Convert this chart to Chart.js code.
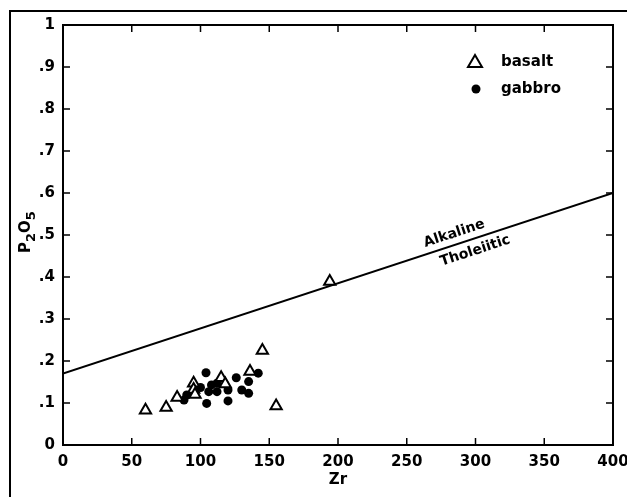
<!DOCTYPE html>
<html lang="en">
<head>
    <meta charset="UTF-8">
    <title>P2O5 vs Zr</title>
    <script src="https://cdn.jsdelivr.net/npm/chart.js"></script>
    <style>
        html, body { margin: 0; padding: 0; background: #fff; }
        #wrap { width: 627px; height: 497px; position: relative; }
    </style>
</head>
<body>
<div id="wrap"><canvas id="zrChart" width="627" height="497"></canvas></div>
<script>
    // values
    const basaltZr  = [60, 75, 83, 95, 95, 96, 115, 118, 136, 145, 155, 194];
    const basaltP   = [0.083, 0.089, 0.113, 0.147, 0.132, 0.12, 0.16, 0.145, 0.175, 0.225, 0.093, 0.389];
    const gabbroZr  = [88, 90, 104, 104.5, 106, 108, 112, 112, 120, 120, 126, 130, 135, 135, 142, 100];
    const gabbroP   = [0.107, 0.119, 0.172, 0.099, 0.127, 0.143, 0.147, 0.127, 0.105, 0.131, 0.16, 0.131, 0.123, 0.151, 0.171, 0.137];
    const dividerZr = [0, 400];
    const dividerP  = [0.17, 0.6];
    const xTicks = [0, 50, 100, 150, 200, 250, 300, 350, 400];
    const yTicks = [0, 0.1, 0.2, 0.3, 0.4, 0.5, 0.6, 0.7, 0.8, 0.9, 1];

    const FONT = 'DejaVu Sans';

    function pts(xs, ys) { return xs.map((x, i) => ({x: x, y: ys[i]})); }

    function yLabel(v) {
        const r = Math.round(v * 10) / 10;
        if (r === 0) return '0';
        if (r === 1) return '1';
        return '.' + Math.round(r * 10);
    }

    // frame, inward ticks, legend, line labels, y title with subscripts
    const decor = {
        id: 'decor',
        afterDraw(chart) {
            const ctx = chart.ctx;
            const a = chart.chartArea;
            const xs = chart.scales.x, ys = chart.scales.y;
            ctx.save();
            ctx.strokeStyle = '#000';
            ctx.lineWidth = 2;
            // outer frame
            ctx.beginPath();
            ctx.moveTo(10, 497); ctx.lineTo(10, 11); ctx.lineTo(627, 11);
            ctx.stroke();
            // plot box
            ctx.strokeRect(a.left, a.top, a.right - a.left, a.bottom - a.top);
            // ticks pointing in
            ctx.lineWidth = 1.5;
            ctx.beginPath();
            xTicks.forEach(v => {
                const px = xs.getPixelForValue(v);
                ctx.moveTo(px, a.bottom); ctx.lineTo(px, a.bottom - 7);
                ctx.moveTo(px, a.top); ctx.lineTo(px, a.top + 7);
            });
            yTicks.forEach(v => {
                const py = ys.getPixelForValue(v);
                ctx.moveTo(a.left, py); ctx.lineTo(a.left + 7, py);
                ctx.moveTo(a.right, py); ctx.lineTo(a.right - 7, py);
            });
            ctx.stroke();

            // y title: P2O5 with subscripts, rotated
            ctx.fillStyle = '#000';
            ctx.save();
            ctx.translate(30, 232);
            ctx.rotate(-Math.PI / 2);
            ctx.textBaseline = 'alphabetic';
            ctx.textAlign = 'left';
            const parts = [['P', 0], ['2', 5], ['O', 0], ['5', 5]];
            let w = 0;
            parts.forEach(pp => {
                ctx.font = (pp[1] ? 'bold 13px ' : 'bold 15px ') + FONT;
                w += ctx.measureText(pp[0]).width;
            });
            let cx = -w / 2;
            parts.forEach(pp => {
                ctx.font = (pp[1] ? 'bold 13px ' : 'bold 15px ') + FONT;
                ctx.fillText(pp[0], cx, pp[1]);
                cx += ctx.measureText(pp[0]).width;
            });
            ctx.restore();

            // legend
            ctx.font = 'bold 15px ' + FONT;
            ctx.textBaseline = 'middle';
            ctx.textAlign = 'left';
            ctx.lineWidth = 2;
            ctx.beginPath();
            ctx.moveTo(475, 55); ctx.lineTo(482, 67); ctx.lineTo(468, 67); ctx.closePath();
            ctx.stroke();
            ctx.fillText('basalt', 501, 62);
            ctx.beginPath();
            ctx.arc(476, 89, 4.5, 0, Math.PI * 2);
            ctx.fill();
            ctx.fillText('gabbro', 501, 89);

            // labels along the divider
            const x1 = xs.getPixelForValue(dividerZr[0]), y1 = ys.getPixelForValue(dividerP[0]);
            const x2 = xs.getPixelForValue(dividerZr[1]), y2 = ys.getPixelForValue(dividerP[1]);
            const ang = Math.atan2(y2 - y1, x2 - x1);
            function along(zr) {
                const t = (zr - dividerZr[0]) / (dividerZr[1] - dividerZr[0]);
                return [x1 + (x2 - x1) * t, y1 + (y2 - y1) * t];
            }
            ctx.font = 'bold 14px ' + FONT;
            ctx.textAlign = 'center';
            let p = along(287);
            ctx.save(); ctx.translate(p[0], p[1]); ctx.rotate(ang);
            ctx.fillText('Alkaline', 0, -11);
            ctx.restore();
            p = along(297);
            ctx.save(); ctx.translate(p[0], p[1]); ctx.rotate(ang);
            ctx.fillText('Tholeiitic', 0, 12);
            ctx.restore();
            ctx.restore();
        }
    };

    new Chart(document.getElementById('zrChart'), {
        type: 'scatter',
        data: {
            datasets: [{
                label: 'basalt',
                data: pts(basaltZr, basaltP),
                pointStyle: 'triangle',
                pointRadius: 6.5,
                borderColor: '#000',
                backgroundColor: '#fff',
                borderWidth: 2
            }, {
                label: 'gabbro',
                data: pts(gabbroZr, gabbroP),
                pointStyle: 'circle',
                pointRadius: 4.5,
                borderColor: '#000',
                backgroundColor: '#000',
                borderWidth: 0
            }, {
                type: 'line',
                label: 'divider',
                data: pts(dividerZr, dividerP),
                borderColor: '#000',
                borderWidth: 2,
                pointRadius: 0,
                fill: false
            }]
        },
        options: {
            responsive: false,
            animation: false,
            layout: { padding: { left: 14, right: 14, top: 25, bottom: 8 } },
            plugins: { legend: { display: false }, tooltip: { enabled: false } },
            scales: {
                x: {
                    type: 'linear', min: 0, max: 400,
                    afterBuildTicks: s => { s.ticks = xTicks.map(v => ({value: v})); },
                    grid: { display: false, drawTicks: false },
                    border: { display: false },
                    ticks: { color: '#000', padding: 8, maxRotation: 0, font: { family: FONT, size: 15, weight: 'bold' } },
                    title: { display: true, text: 'Zr', color: '#000', padding: { top: 2, bottom: 0 }, font: { family: FONT, size: 15, weight: 'bold' } },
                    afterFit: s => { s.height = 44; s.paddingLeft = 0; s.paddingRight = 0; }
                },
                y: {
                    type: 'linear', min: 0, max: 1,
                    afterBuildTicks: s => { s.ticks = yTicks.map(v => ({value: v})); },
                    grid: { display: false, drawTicks: false },
                    border: { display: false },
                    ticks: { color: '#000', padding: 8, callback: v => yLabel(v), font: { family: FONT, size: 15, weight: 'bold' } },
                    afterFit: s => { s.width = 49; s.paddingTop = 0; s.paddingBottom = 0; }
                }
            }
        },
        plugins: [decor]
    });
</script>
</body>
</html>
